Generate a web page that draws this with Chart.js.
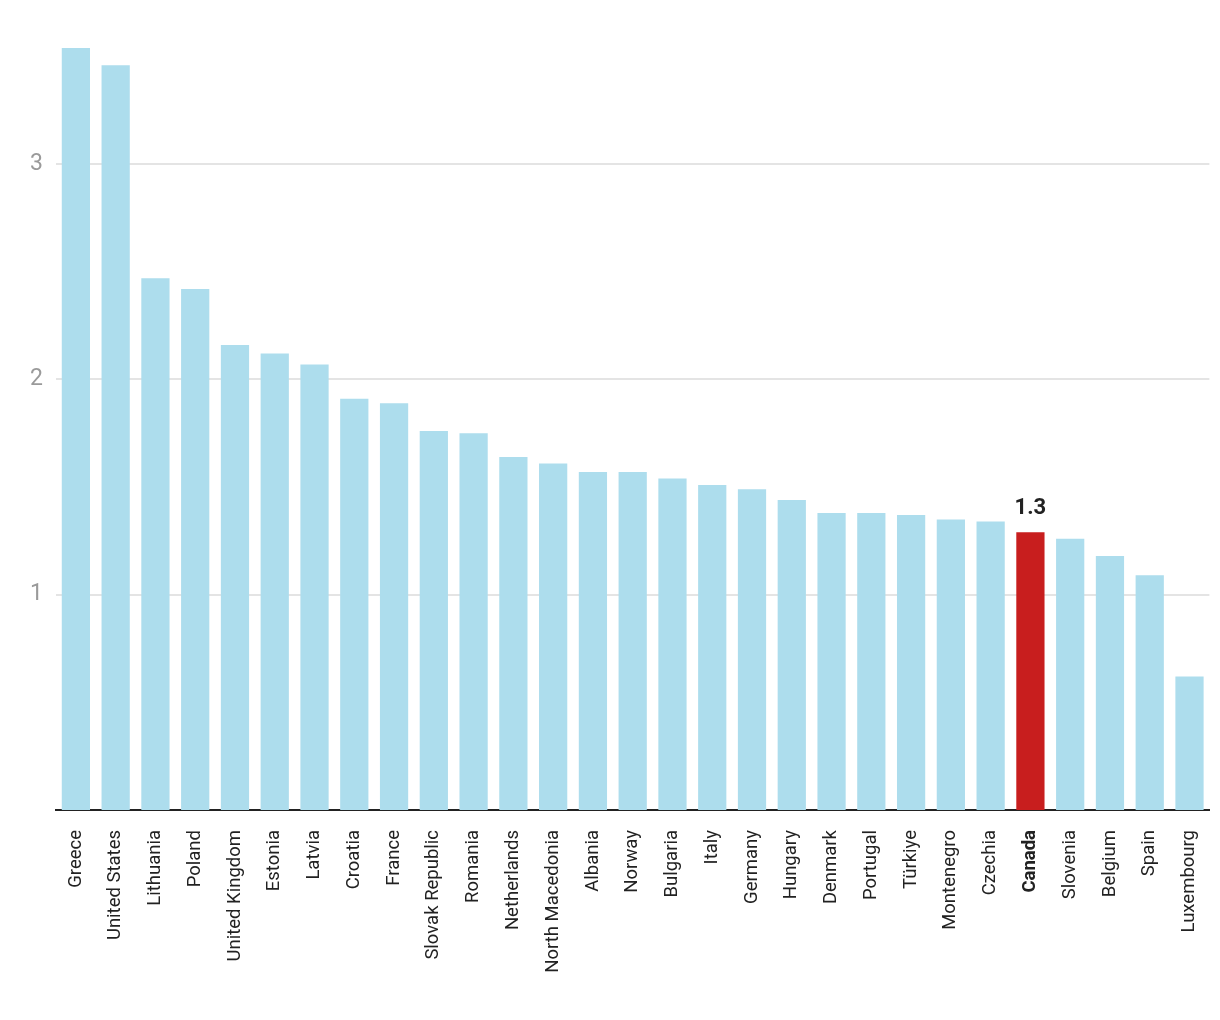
<!DOCTYPE html>
<html>
<head>
<meta charset="utf-8">
<script src="https://cdn.jsdelivr.net/npm/chart.js@4/dist/chart.umd.min.js"></script>
<style>
  html, body { margin: 0; padding: 0; background: #fff; }
  #wrap { width: 1220px; height: 1020px; }
</style>
</head>
<body>
<div id="wrap"><canvas id="chart" width="1220" height="1020"></canvas></div>
<script>
const countries = ["Greece", "United States", "Lithuania", "Poland", "United Kingdom", "Estonia", "Latvia",
  "Croatia", "France", "Slovak Republic", "Romania", "Netherlands", "North Macedonia", "Albania", "Norway",
  "Bulgaria", "Italy", "Germany", "Hungary", "Denmark", "Portugal", "Türkiye", "Montenegro", "Czechia",
  "Canada", "Slovenia", "Belgium", "Spain", "Luxembourg"];
const values = [3.54, 3.46, 2.47, 2.42, 2.16, 2.12, 2.07, 1.91, 1.89, 1.76, 1.75, 1.64, 1.61, 1.57, 1.57,
  1.54, 1.51, 1.49, 1.44, 1.38, 1.38, 1.37, 1.35, 1.34, 1.29, 1.26, 1.18, 1.09, 0.62];
const yTicks = [1, 2, 3];
const highlight = "Canada";
const highlightLabel = "1.3";

const hi = countries.indexOf(highlight);
const blue = "#addded";
const red = "#c81e1e";

const valueLabel = {
  id: "valueLabel",
  afterDatasetsDraw(chart) {
    const bar = chart.getDatasetMeta(0).data[hi];
    const ctx = chart.ctx;
    ctx.save();
    ctx.font = "bold 22px Roboto";
    ctx.fillStyle = "#222";
    ctx.textAlign = "center";
    ctx.textBaseline = "bottom";
    ctx.fillText(highlightLabel, bar.x, bar.y - 13);
    ctx.restore();
  }
};

new Chart(document.getElementById("chart"), {
  type: "bar",
  data: {
    labels: countries,
    datasets: [{
      data: values,
      backgroundColor: countries.map((c, i) => i === hi ? red : blue),
      categoryPercentage: 1,
      barPercentage: 0.71
    }]
  },
  options: {
    responsive: false,
    animation: false,
    layout: { padding: { top: 35, right: 0, left: 0, bottom: 0 } },
    plugins: { legend: { display: false }, tooltip: { enabled: false } },
    scales: {
      x: {
        grid: { display: false },
        border: { display: true, color: "#222", width: 2 },
        ticks: {
          autoSkip: false,
          minRotation: 90,
          maxRotation: 90,
          padding: 12,
          color: "#222",
          font: ctx => ({ family: "Roboto", size: 18.5, lineHeight: 1.0, weight: ctx.index === hi ? "bold" : "normal" })
        },
        afterFit: s => { s.height = 210; }
      },
      y: {
        min: 0,
        max: 3.6,
        grid: { color: "#e4e4e4", lineWidth: 2, drawTicks: false },
        border: { display: false },
        ticks: { color: "#9a9a9a", padding: 13, font: { family: "Roboto", size: 23 } },
        afterBuildTicks: s => { s.ticks = yTicks.map(v => ({ value: v })); },
        afterFit: s => { s.width = 56; }
      }
    }
  },
  plugins: [valueLabel]
});
</script>
</body>
</html>
